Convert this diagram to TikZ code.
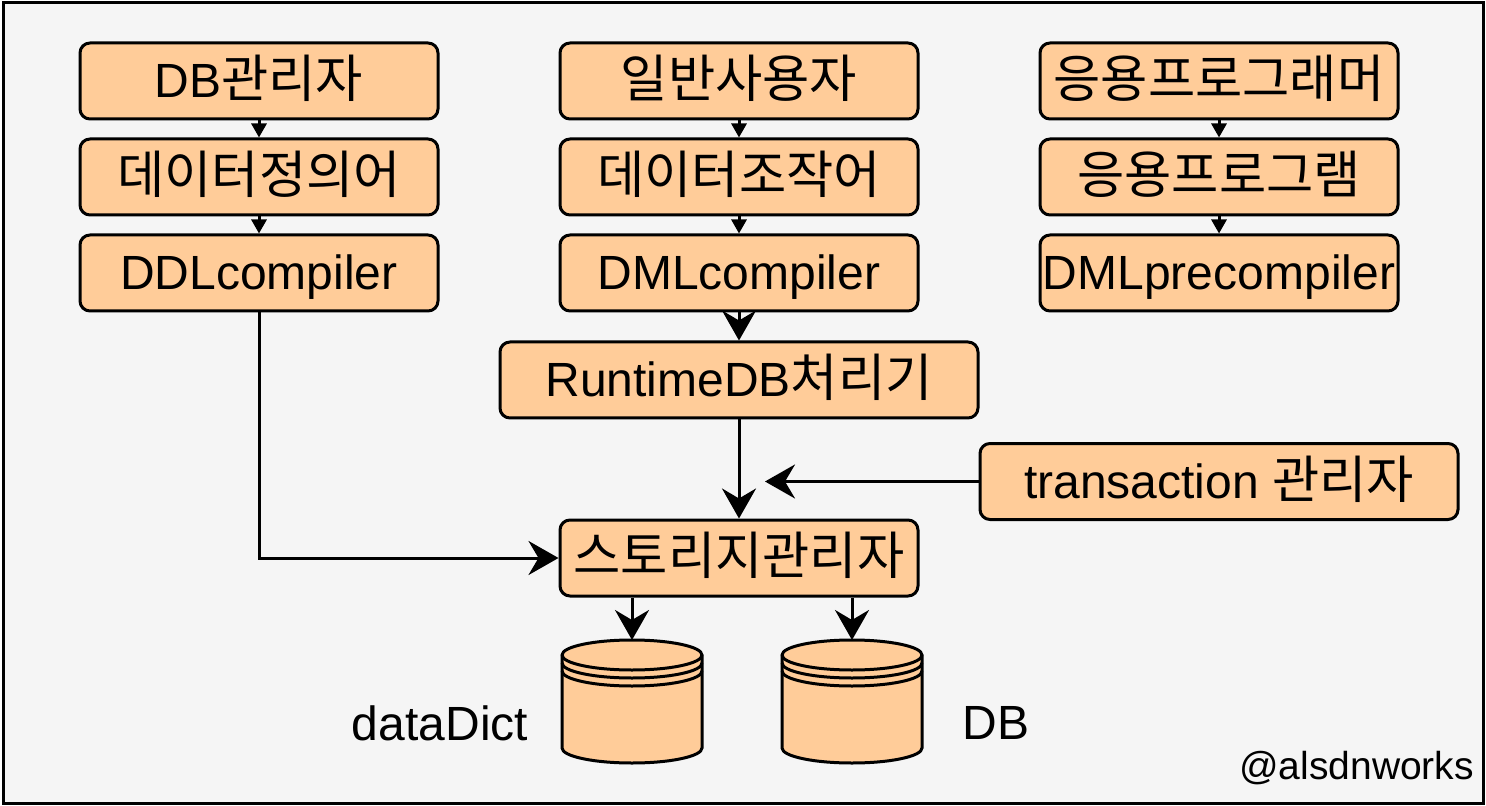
\documentclass[tikz,border=0pt]{standalone}
\usepackage{fontspec}
\setmainfont{Liberation Sans}
\newfontfamily\kr[Scale=1.07]{Noto Sans CJK KR}
\usetikzlibrary{arrows.meta,positioning}
\definecolor{boxfill}{HTML}{FFCC99}
\definecolor{bgfill}{HTML}{F5F5F5}

\begin{document}
\begin{tikzpicture}[
  x=0.5pt,y=-0.5pt,
  proc/.style={draw,line width=1.5pt,rounded corners=5pt,fill=boxfill,
    minimum width=179pt,minimum height=38pt,inner sep=0pt,
    text height=21.7pt,text depth=5.1pt,
    font=\fontsize{24}{28}\selectfont},
  wide/.style={proc,minimum width=239pt},
  link/.style={line width=1.5pt,-{Stealth[length=15pt,width=17pt,inset=5pt]}},
  chainlink/.style={line width=1.5pt,-{Triangle[length=7pt,width=7.5pt]}},
  lbl/.style={font=\fontsize{24}{28}\selectfont},
  node distance=8.5pt
]
  \useasboundingbox (0,0) rectangle (1486,806);
  \draw[line width=1.5pt,fill=bgfill] (3,3) rectangle (1483,803);

  \node[proc] (dba) at (259,81) {DB{\kr 관리자}};
  \node[proc,below=of dba] (ddl) {{\kr 데이터정의어}};
  \node[proc,below=of ddl] (ddlc) {DDLcompiler};
  \node[proc] (user) at (739,81) {{\kr 일반사용자}};
  \node[proc,below=of user] (dml) {{\kr 데이터조작어}};
  \node[proc,below=of dml] (dmlc) {DMLcompiler};
  \node[proc] (prog) at (1219,81) {{\kr 응용프로그래머}};
  \node[proc,below=of prog] (app) {{\kr 응용프로그램}};
  \node[proc,below=of app] (pre) {DMLprecompiler};
  \node[wide,below=14pt of dmlc] (rt) {RuntimeDB{\kr 처리기}};
  \node[wide] (tx) at (1219,481.5) {transaction {\kr 관리자}};
  \node[proc,below=49.5pt of rt] (store) {{\kr 스토리지관리자}};
  \coordinate (txend) at (765,481.5);

  \foreach \a/\b in {dba/ddl,ddl/ddlc,user/dml,dml/dmlc,prog/app,app/pre}
    \draw[chainlink] (\a) -- (\b);
  \draw[link] (dmlc) -- (rt);
  \draw[link] (rt) -- (store);
  \draw[link] (tx.west) -- (txend);
  \draw[link] (ddlc.south) |- (store.west);

  % storage drums
  \foreach \cx/\nm in {632/dict,852/db}{
    \coordinate (\nm) at (\cx,640);
    \draw[line width=1.5pt,fill=boxfill] (\cx-70,655) -- (\cx-70,748)
      arc[start angle=180,end angle=0,x radius=70,y radius=15] -- (\cx+70,655)
      arc[start angle=0,end angle=-180,x radius=70,y radius=15] -- cycle;
    \foreach \dy in {0,8,16}
      \draw[line width=1.5pt] (\cx-70,655+\dy)
        arc[start angle=180,end angle=0,x radius=70,y radius=15];
    \draw[link] (store.south -| \nm) -- (\nm);
  }

  \node[lbl] (dictlbl) at (440,723) {dataDict};
  \node[lbl] (dblbl) at (996,723) {DB};
  \node[font=\fontsize{19.5}{23}\selectfont,anchor=east] (mark) at (1481,768) {@alsdnworks};
\end{tikzpicture}
\end{document}
